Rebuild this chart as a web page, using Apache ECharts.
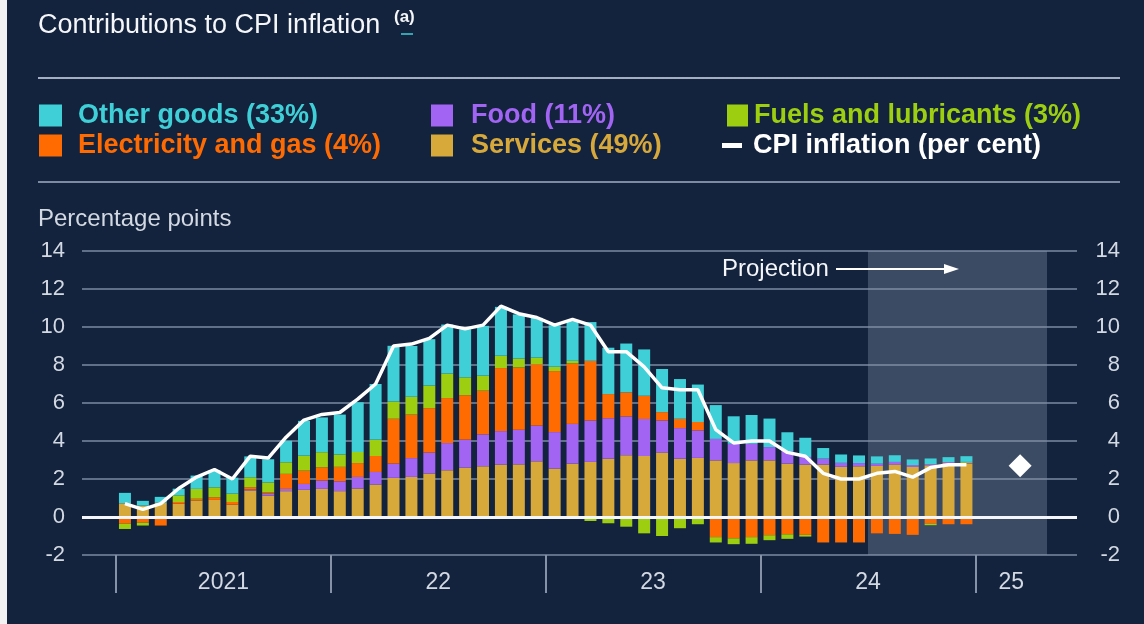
<!DOCTYPE html>
<html>
<head>
<meta charset="utf-8">
<title>Contributions to CPI inflation</title>
<script src="https://cdn.jsdelivr.net/npm/echarts@6/dist/echarts.min.js"></script>
<style>
  html, body { margin: 0; padding: 0; background: #ffffff; }
  #chart { width: 1144px; height: 624px; }
</style>
</head>
<body>
<div id="chart"></div>
<script>
// categories: one per month, Jan 2021 .. Apr 2025 (axis runs past the last bar)
var monthNames = ['Jan', 'Feb', 'Mar', 'Apr', 'May', 'Jun', 'Jul', 'Aug', 'Sep', 'Oct', 'Nov', 'Dec'];
var years = [2021, 2022, 2023, 2024, 2025];
var months = [];
years.forEach(function (y) {
  monthNames.forEach(function (m) { months.push(m + ' ' + y); });
});
months = months.slice(0, 52);

var yearLabels = ['2021', '22', '23', '24', '25'];

// contributions, percentage points, Jan 2021 .. Dec 2024
var services = [
  0.72, 0.60, 0.75, 0.70, 0.87, 0.90, 0.65, 1.40, 1.13, 1.36, 1.43, 1.48,
  1.36, 1.50, 1.71, 2.06, 2.11, 2.29, 2.46, 2.60, 2.67, 2.76, 2.77, 2.93,
  2.55, 2.81, 2.90, 3.07, 3.25, 3.21, 3.39, 3.07, 3.11, 2.98, 2.84, 2.98,
  2.98, 2.81, 2.76, 2.76, 2.64, 2.67, 2.69, 2.76, 2.64, 2.72, 2.84, 2.80
];
var food = [
  -0.05, -0.05, -0.05, 0.00, -0.10, -0.05, -0.05, 0.05, 0.10, 0.12, 0.31, 0.44,
  0.52, 0.61, 0.66, 0.75, 0.99, 1.10, 1.43, 1.47, 1.68, 1.76, 1.82, 1.88,
  1.92, 2.09, 2.18, 2.13, 2.04, 1.95, 1.69, 1.61, 1.45, 1.13, 1.01, 0.87,
  0.70, 0.66, 0.40, 0.31, 0.21, 0.17, 0.12, 0.14, 0.09, 0.06, 0.05, 0.05
];
var electricity = [
  -0.30, -0.25, -0.40, 0.09, 0.09, 0.14, 0.14, 0.12, 0.07, 0.79, 0.70, 0.70,
  0.76, 0.73, 0.84, 2.36, 2.29, 2.34, 2.37, 2.34, 2.30, 3.32, 3.28, 3.23,
  3.21, 3.18, 3.14, 1.27, 1.27, 1.22, 0.44, 0.49, 0.44, -1.06, -1.12, -1.06,
  -0.96, -0.91, -0.94, -1.34, -1.34, -1.34, -0.86, -0.89, -0.94, -0.35, -0.38, -0.38
];
var fuels = [
  -0.28, -0.15, 0.00, 0.35, 0.52, 0.52, 0.44, 0.52, 0.52, 0.61, 0.79, 0.79,
  0.65, 0.58, 0.86, 0.91, 0.94, 1.19, 1.29, 0.94, 0.79, 0.65, 0.47, 0.35,
  0.23, 0.14, -0.21, -0.33, -0.51, -0.86, -1.00, -0.59, -0.38, -0.28, -0.31, -0.35,
  -0.26, -0.24, -0.09, 0.00, 0.00, 0.00, 0.00, 0.00, 0.00, -0.08, 0.00, 0.05
];
var otherGoods = [
  0.55, 0.25, 0.31, 0.35, 0.70, 0.90, 0.84, 1.10, 1.22, 1.13, 1.83, 1.83,
  2.10, 2.62, 2.93, 2.93, 2.67, 2.44, 2.58, 2.53, 2.62, 2.57, 2.32, 2.09,
  2.18, 2.09, 2.04, 2.44, 2.57, 2.44, 2.27, 2.09, 1.97, 1.78, 1.45, 1.52,
  1.50, 0.99, 1.01, 0.56, 0.44, 0.40, 0.38, 0.35, 0.30, 0.30, 0.26, 0.30
];
// CPI inflation, per cent
var cpi = [
  0.7, 0.4, 0.7, 1.5, 2.1, 2.5, 2.0, 3.2, 3.1, 4.2, 5.1, 5.4,
  5.5, 6.2, 7.0, 9.0, 9.1, 9.4, 10.1, 9.9, 10.1, 11.1, 10.7, 10.5,
  10.1, 10.4, 10.1, 8.7, 8.7, 7.9, 6.8, 6.7, 6.7, 4.6, 3.9, 4.0,
  4.0, 3.4, 3.2, 2.3, 2.0, 2.0, 2.3, 2.4, 2.1, 2.6, 2.75, 2.75
];
var projectionStart = 'Jul 2024';
var markerMonth = 'Mar 2025';
var markerValue = 2.7;

var FONT = '"Liberation Sans", Arial, sans-serif';
var BG = '#13233e';
var GRIDLINE = '#617089';
var AXISTEXT = '#d3d9e2';

var cols = {
  other: '#3fd0d7',
  elec: '#ff6b00',
  food: '#a264f3',
  services: '#d7a83a',
  fuels: '#9dcf10'
};

// year ticks at the first month of each year, labels in the middle of each year
var yearStarts = yearLabels.map(function (l, i) { return months.indexOf('Jan ' + years[i]); });
var yearMids = yearStarts.map(function (s, i) {
  var end = i + 1 < yearStarts.length ? yearStarts[i + 1] : months.length;
  return (s + end) / 2;
});

function legendItem(name, color, left, top, pad, icon, w, h) {
  return {
    left: left, top: top, padding: 0,
    selectedMode: false,
    icon: icon, itemWidth: w, itemHeight: h,
    data: [{ name: name, textStyle: { color: color } }],
    textStyle: {
      fontFamily: FONT, fontSize: 27, fontWeight: 'bold',
      lineHeight: 26, padding: [0, 0, 0, pad]
    }
  };
}

function bar(name, data, color) {
  return {
    name: name, type: 'bar', stack: 'total',
    xAxisIndex: 1, yAxisIndex: 2,
    barWidth: 12,
    itemStyle: { color: color },
    data: data,
    z: 2
  };
}

var chart = echarts.init(document.getElementById('chart'), null, { renderer: 'canvas' });

var option = {
  backgroundColor: BG,
  animation: false,
  textStyle: { fontFamily: FONT },
  legend: [
    legendItem('Other goods (33%)', cols.other, 39, 102, 11, 'rect', 23, 22),
    legendItem('Food (11%)', cols.food, 431, 102, 13, 'rect', 22, 22),
    legendItem('Fuels and lubricants (3%)', cols.fuels, 727, 102, 1, 'rect', 21, 22),
    legendItem('Electricity and gas (4%)', cols.elec, 39, 132, 11, 'rect', 23, 22),
    legendItem('Services (49%)', cols.services, 431, 132, 13, 'rect', 22, 22),
    legendItem('CPI inflation (per cent)', '#ffffff', 722, 132, 6, 'rect', 20, 5)
  ],
  grid: [
    { left: 82, right: 67, top: 251, bottom: 69 },
    { left: 116, width: 931, top: 251, bottom: 69 }
  ],
  xAxis: [
    { gridIndex: 0, type: 'value', min: 0, max: 1, show: false },
    { gridIndex: 1, type: 'category', data: months, show: false },
    {
      gridIndex: 1, type: 'value', min: 0, max: months.length, position: 'bottom',
      axisLine: { show: false, onZero: false },
      splitLine: { show: false },
      axisTick: {
        show: true, customValues: yearStarts, length: 38,
        lineStyle: { color: '#8693a7', width: 2 }
      },
      axisLabel: {
        customValues: yearMids, margin: 16,
        color: AXISTEXT, fontSize: 23, fontFamily: FONT,
        formatter: function (v) { return yearLabels[yearMids.indexOf(v)]; }
      }
    }
  ],
  yAxis: [
    {
      gridIndex: 0, type: 'value', min: -2, max: 14, interval: 2, position: 'left',
      axisLine: { show: false }, axisTick: { show: false },
      axisLabel: { color: AXISTEXT, fontSize: 22, margin: 17, fontFamily: FONT },
      splitLine: { lineStyle: { color: GRIDLINE, width: 2 } }
    },
    {
      gridIndex: 0, type: 'value', min: -2, max: 14, interval: 2, position: 'right',
      axisLine: { show: false }, axisTick: { show: false },
      axisLabel: { color: AXISTEXT, fontSize: 22, margin: 43, align: 'right', fontFamily: FONT },
      splitLine: { show: false }
    },
    { gridIndex: 1, type: 'value', min: -2, max: 14, interval: 2, show: false }
  ],
  series: [
    {
      name: 'zero', type: 'line', xAxisIndex: 0, yAxisIndex: 0, data: [],
      markLine: {
        silent: true, symbol: 'none', label: { show: false },
        lineStyle: { color: '#f4f6f9', width: 3, type: 'solid' },
        data: [{ yAxis: 0 }]
      }
    },
    bar('Services (49%)', services, cols.services),
    bar('Food (11%)', food, cols.food),
    bar('Electricity and gas (4%)', electricity, cols.elec),
    bar('Fuels and lubricants (3%)', fuels, cols.fuels),
    bar('Other goods (33%)', otherGoods, cols.other),
    {
      name: 'CPI inflation (per cent)', type: 'line',
      xAxisIndex: 1, yAxisIndex: 2,
      data: cpi, symbol: 'none',
      lineStyle: { color: '#ffffff', width: 3.5 },
      itemStyle: { color: '#ffffff' },
      z: 6
    },
    {
      name: 'shade', type: 'line', xAxisIndex: 2, yAxisIndex: 2, data: [],
      z: 1,
      markArea: {
        silent: true,
        itemStyle: { color: 'rgba(130,145,165,0.37)' },
        data: [[{ xAxis: months.indexOf(projectionStart) }, { xAxis: months.length }]]
      }
    },
    {
      name: 'marker', type: 'scatter', xAxisIndex: 2, yAxisIndex: 2,
      symbol: 'diamond', symbolSize: 23,
      itemStyle: { color: '#ffffff', opacity: 1 },
      data: [[months.indexOf(markerMonth) + 0.5, markerValue]],
      z: 8
    }
  ],
  graphic: [
    { type: 'rect', shape: { x: 0, y: 0, width: 7, height: 624 }, style: { fill: '#f2f2f2' } },
    {
      type: 'text', x: 38, y: 26,
      style: { text: 'Contributions to CPI inflation', fill: '#f5f6f8', font: '27px ' + FONT, verticalAlign: 'middle' }
    },
    {
      type: 'text', x: 394, y: 17,
      style: { text: '(a)', fill: '#f5f6f8', font: 'bold 17px ' + FONT, verticalAlign: 'middle' }
    },
    { type: 'line', shape: { x1: 401, y1: 34, x2: 413, y2: 34 }, style: { stroke: '#3fd0d7', lineWidth: 1.5 } },
    { type: 'line', shape: { x1: 38, y1: 78, x2: 1120, y2: 78 }, style: { stroke: '#a3aec0', lineWidth: 2 } },
    { type: 'line', shape: { x1: 38, y1: 182, x2: 1120, y2: 182 }, style: { stroke: '#7d8aa0', lineWidth: 2 } },
    {
      type: 'text', x: 38, y: 219,
      style: { text: 'Percentage points', fill: AXISTEXT, font: '24px ' + FONT, verticalAlign: 'middle' }
    },
    {
      type: 'text', x: 722, y: 269, z: 10,
      style: { text: 'Projection', fill: '#f5f6f8', font: '24px ' + FONT, verticalAlign: 'middle' }
    },
    { type: 'line', z: 10, shape: { x1: 836, y1: 269, x2: 946, y2: 269 }, style: { stroke: '#ffffff', lineWidth: 2 } },
    { type: 'polygon', z: 10, shape: { points: [[944, 264], [959, 269], [944, 274]] }, style: { fill: '#ffffff' } }
  ]
};

chart.setOption(option);
</script>
</body>
</html>
